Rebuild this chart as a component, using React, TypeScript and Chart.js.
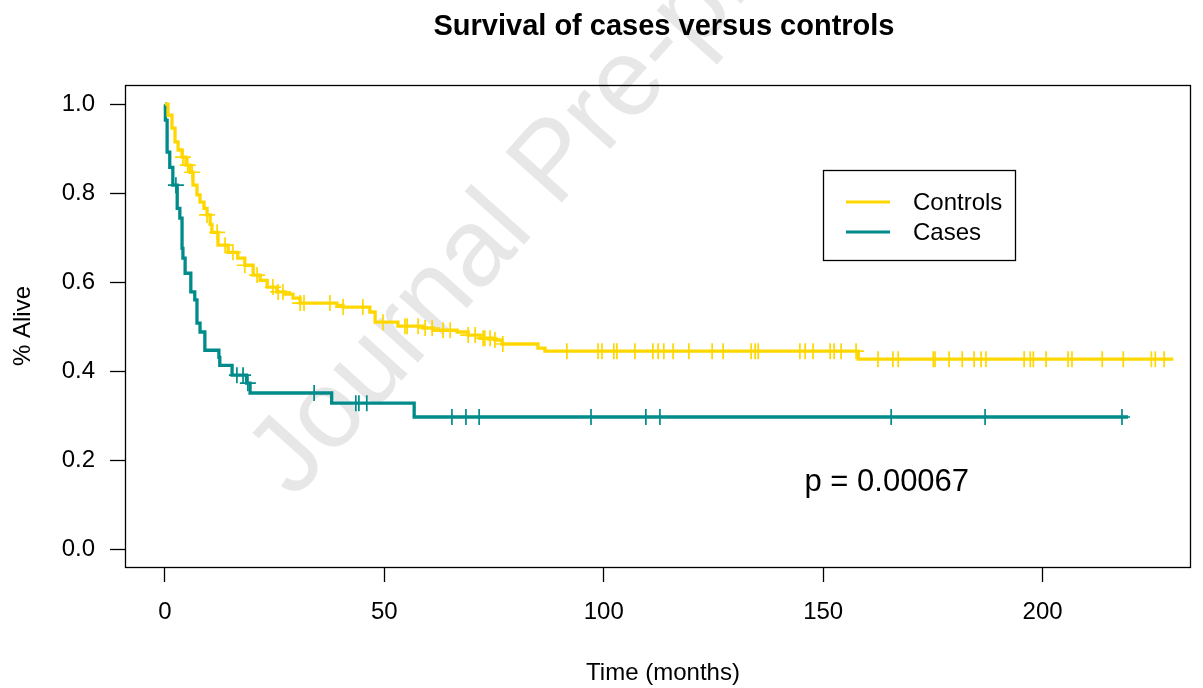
import React, { useEffect, useRef } from "react";
import { Chart, registerables } from "chart.js";

Chart.register(...registerables);

// ---- Data ----
const controlsTimes = [0, 0.7, 1.6, 2.3, 3.0, 3.9, 4.8, 5.7, 6.4, 7.3, 8.0, 8.9, 9.6, 10.3, 10.7, 12.1, 14.4, 16.6, 18.2, 20.1, 21.7, 23.3, 25.5, 27.4, 29.2, 30.8, 39.2, 40.6, 46.7, 47.9, 53.1, 58.8, 61.1, 66.6, 69.1, 71.8, 75.2, 76.8, 85.0, 86.6, 158.0];
const controlsSurv = [1.0, 0.975, 0.946, 0.915, 0.897, 0.881, 0.863, 0.847, 0.818, 0.796, 0.78, 0.766, 0.751, 0.73, 0.712, 0.683, 0.667, 0.654, 0.638, 0.616, 0.604, 0.589, 0.578, 0.573, 0.564, 0.553, 0.548, 0.544, 0.533, 0.51, 0.501, 0.497, 0.492, 0.488, 0.481, 0.474, 0.47, 0.461, 0.452, 0.445, 0.427];
const controlsEnd = 229.8;
const controlsCensor = [4.1, 5.2, 6.2, 9.6, 11.9, 13.7, 15.5, 18.2, 21.0, 24.6, 25.8, 26.9, 30.8, 31.7, 37.6, 40.6, 45.1, 49.7, 54.7, 55.2, 57.7, 59.3, 60.9, 63.4, 65.0, 69.1, 70.7, 72.5, 72.9, 74.1, 75.2, 77.0, 91.6, 98.7, 99.6, 102.3, 103.0, 107.1, 111.2, 112.4, 113.7, 115.8, 119.4, 124.7, 127.2, 133.6, 134.5, 135.2, 144.7, 145.9, 147.7, 151.6, 152.5, 154.1, 157.5, 162.5, 165.9, 167.1, 175.1, 175.5, 178.7, 181.7, 184.4, 186.0, 187.1, 195.8, 197.2, 197.9, 200.8, 205.8, 206.7, 213.6, 218.4, 224.8, 225.7, 227.7];

const casesTimes = [0, 0.1, 0.5, 1.1, 1.8, 2.8, 3.4, 3.9, 4.1, 4.6, 5.9, 6.8, 7.3, 8.0, 9.1, 12.3, 12.5, 15.3, 18.6, 19.4, 38.0, 56.8];
const casesSurv = [1.0, 0.964, 0.892, 0.858, 0.818, 0.766, 0.744, 0.676, 0.654, 0.62, 0.578, 0.56, 0.508, 0.488, 0.447, 0.431, 0.413, 0.391, 0.373, 0.351, 0.328, 0.297];
const casesEnd = 219.5;
const casesCensor = [2.5, 16.4, 17.8, 18.9, 34.0, 43.5, 44.2, 46.0, 65.4, 68.6, 71.6, 97.1, 109.6, 112.8, 165.5, 186.9, 218.1];

const seriesLabels = ["Controls", "Cases"];
const seriesColors = ["#FFD700", "#008B8B"];
const xTicks = [0, 50, 100, 150, 200];
const yTicks = [0, 0.2, 0.4, 0.6, 0.8, 1.0];
const titleText = "Survival of cases versus controls";
const xTitle = "Time (months)";
const yTitle = "% Alive";
const pText = "p = 0.00067";
const pPos = { x: 164.5, y: 0.15 };
const legendPos = { x: 150, y: 0.852 };
const watermarkText = "Journal Pre-proof";

const FONT = "'Liberation Sans', Arial, sans-serif";

function survAt(times: number[], surv: number[], t: number): number {
  let s = surv[0];
  for (let i = 0; i < times.length; i++) {
    if (times[i] <= t) s = surv[i];
  }
  return s;
}

function curve(times: number[], surv: number[], end: number) {
  const pts = times.map((t, i) => ({ x: t, y: surv[i] }));
  pts.push({ x: end, y: surv[surv.length - 1] });
  return pts;
}

function censorPts(times: number[], surv: number[], cens: number[]) {
  return cens.map((t) => ({ x: t, y: survAt(times, surv, t) }));
}

const decorPlugin = {
  id: "decor",
  beforeDraw(chart: any) {
    const ctx = chart.ctx;
    ctx.save();
    ctx.fillStyle = "#ffffff";
    ctx.fillRect(0, 0, chart.width, chart.height);
    // watermark
    ctx.translate(294, 500);
    ctx.rotate((-48 * Math.PI) / 180);
    ctx.font = `110px ${FONT}`;
    ctx.fillStyle = "#e7e7e7";
    ctx.textAlign = "left";
    ctx.textBaseline = "alphabetic";
    ctx.fillText(watermarkText, 0, 0);
    ctx.restore();
  },
  afterDraw(chart: any) {
    const ctx = chart.ctx;
    const a = chart.chartArea;
    const xs = chart.scales.x;
    const ys = chart.scales.y;
    ctx.save();
    // box
    ctx.strokeStyle = "#000";
    ctx.lineWidth = 1.3;
    ctx.strokeRect(a.left + 0.5, a.top + 0.5, a.right - a.left, a.bottom - a.top);
    // title
    ctx.fillStyle = "#000";
    ctx.textAlign = "center";
    ctx.textBaseline = "middle";
    ctx.font = `bold 29px ${FONT}`;
    ctx.fillText(titleText, 664, 27);
    // x title
    ctx.font = `24px ${FONT}`;
    ctx.fillText(xTitle, 663, 673);
    // y title
    ctx.save();
    ctx.translate(23, 326);
    ctx.rotate(-Math.PI / 2);
    ctx.fillText(yTitle, 0, 0);
    ctx.restore();
    // p value
    ctx.font = `31px ${FONT}`;
    ctx.fillText(pText, xs.getPixelForValue(pPos.x), ys.getPixelForValue(pPos.y));
    // legend
    const lx = Math.round(xs.getPixelForValue(legendPos.x));
    const ly = Math.round(ys.getPixelForValue(legendPos.y));
    ctx.lineWidth = 1.3;
    ctx.strokeStyle = "#000";
    ctx.strokeRect(lx + 0.5, ly + 0.5, 192, 90);
    ctx.font = `24px ${FONT}`;
    ctx.textAlign = "left";
    seriesLabels.forEach((lab, i) => {
      const yy = ly + 32 + i * 30;
      ctx.strokeStyle = seriesColors[i];
      ctx.lineWidth = 3;
      ctx.beginPath();
      ctx.moveTo(lx + 23, yy);
      ctx.lineTo(lx + 67, yy);
      ctx.stroke();
      ctx.fillStyle = "#000";
      ctx.fillText(lab, lx + 90, yy + 1);
    });
    ctx.restore();
  },
};

export default function App() {
  const ref = useRef<HTMLCanvasElement | null>(null);
  useEffect(() => {
    if (!ref.current) return;
    const tickFont = { family: FONT, size: 24 };
    const chart = new Chart(ref.current, {
      type: "line",
      data: {
        datasets: [
          {
            label: seriesLabels[0],
            data: curve(controlsTimes, controlsSurv, controlsEnd),
            borderColor: seriesColors[0],
            borderWidth: 3.3,
            pointRadius: 0,
            stepped: true,
            fill: false,
          },
          {
            label: seriesLabels[1],
            data: curve(casesTimes, casesSurv, casesEnd),
            borderColor: seriesColors[1],
            borderWidth: 3.3,
            pointRadius: 0,
            stepped: true,
            fill: false,
          },
          {
            label: seriesLabels[0] + " censored",
            data: censorPts(controlsTimes, controlsSurv, controlsCensor),
            showLine: false,
            pointStyle: "cross",
            pointRadius: 8,
            borderColor: seriesColors[0],
            pointBorderWidth: 1.7,
          },
          {
            label: seriesLabels[1] + " censored",
            data: censorPts(casesTimes, casesSurv, casesCensor),
            showLine: false,
            pointStyle: "cross",
            pointRadius: 8,
            borderColor: seriesColors[1],
            pointBorderWidth: 1.7,
          },
        ] as any,
      },
      options: {
        animation: false,
        responsive: false,
        maintainAspectRatio: false,
        layout: { padding: { top: 85, right: 13, left: 0, bottom: 0 } },
        plugins: {
          legend: { display: false },
          title: { display: false },
          tooltip: { enabled: false },
        },
        scales: {
          x: {
            type: "linear",
            min: -9.1,
            max: 233.6,
            afterFit: (s: any) => {
              s.height = 121;
            },
            afterBuildTicks: (s: any) => {
              s.ticks = xTicks.map((v) => ({ value: v }));
            },
            grid: { drawOnChartArea: false, drawTicks: true, tickLength: 15, tickColor: "#000", tickWidth: 1.3 },
            border: { display: false },
            ticks: {
              font: tickFont,
              color: "#000",
              padding: 16,
              maxRotation: 0,
              autoSkip: false,
              callback: (v: any) => String(v),
            },
          },
          y: {
            type: "linear",
            min: -0.04,
            max: 1.043,
            afterFit: (s: any) => {
              s.width = 125;
            },
            afterBuildTicks: (s: any) => {
              s.ticks = yTicks.map((v) => ({ value: v }));
            },
            grid: { drawOnChartArea: false, drawTicks: true, tickLength: 15, tickColor: "#000", tickWidth: 1.3 },
            border: { display: false },
            ticks: {
              font: tickFont,
              color: "#000",
              padding: 15,
              autoSkip: false,
              callback: (v: any) => Number(v).toFixed(1),
            },
          },
        },
      } as any,
      plugins: [decorPlugin],
    });
    return () => chart.destroy();
  }, []);
  return (
    <div style={{ position: "fixed", left: 0, top: 0, width: 1203, height: 688 }}>
      <canvas ref={ref} width={1203} height={688} style={{ width: 1203, height: 688 }} />
    </div>
  );
}
